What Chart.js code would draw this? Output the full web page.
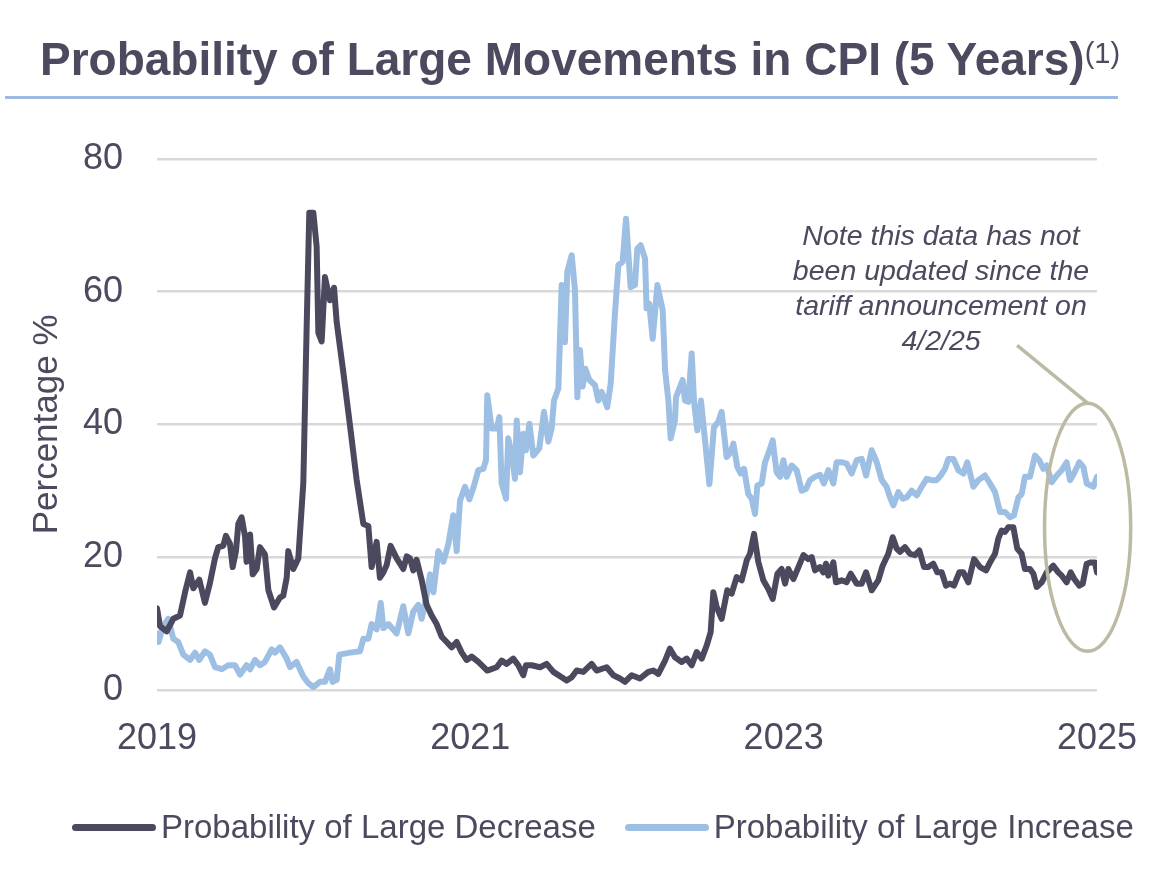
<!DOCTYPE html>
<html>
<head>
<meta charset="utf-8">
<title>Probability of Large Movements in CPI (5 Years)</title>
<script src="https://cdn.jsdelivr.net/npm/chart.js@4.4.1/dist/chart.umd.min.js"></script>
<style>
  body { margin: 0; background: #fff; font-family: "Liberation Sans", Arial, sans-serif; color: #4b4a5e; }
  #wrap { position: relative; width: 1169px; height: 881px; overflow: hidden; }
  #cpiChart { position: absolute; left: 0; top: 0; }
  h1 { position: absolute; left: 40px; top: 31px; margin: 0; font-size: 46px; line-height: 45px; font-weight: bold; white-space: nowrap; }
  h1 span { font-size: 29px; font-weight: normal; vertical-align: 12px; }
  .rule { position: absolute; left: 5px; top: 96px; width: 1113px; height: 3px; background: #9dbbe0; }
  .note { position: absolute; left: 741px; top: 218px; width: 400px; text-align: center; font-style: italic; font-size: 28.5px; line-height: 35px; }
  .legend { position: absolute; left: 72px; top: 808px; display: flex; align-items: center; font-size: 33px; line-height: 38px; white-space: nowrap; }
  .legend .sw { display: inline-block; width: 84px; height: 7px; border-radius: 4px; margin-right: 5px; }
  .legend .item { display: flex; align-items: center; margin-right: 29px; }
</style>
</head>
<body>
<div id="wrap">
  <canvas id="cpiChart" width="1169" height="881"></canvas>
  <h1>Probability of Large Movements in CPI (5 Years)<span>(1)</span></h1>
  <div class="rule"></div>
  <div class="note">Note this data has not<br>been updated since the<br>tariff announcement on<br>4/2/25</div>
  <div class="legend" id="legend"></div>
</div>
<script>
// x ticks and y ticks
const xTickYears = [2019, 2021, 2023, 2025];
const yTickValues = [0, 20, 40, 60, 80];

// Probability of Large Decrease (%), by decimal year
const decYears = [
  2019.000, 2019.019, 2019.062, 2019.104, 2019.147, 2019.179, 2019.211, 2019.232, 2019.270, 2019.306,
  2019.338, 2019.370, 2019.391, 2019.423, 2019.440, 2019.466, 2019.483, 2019.504, 2019.519, 2019.540,
  2019.562, 2019.572, 2019.594, 2019.611, 2019.636, 2019.657, 2019.689, 2019.711, 2019.747, 2019.785,
  2019.806, 2019.828, 2019.838, 2019.870, 2019.902, 2019.934, 2019.955, 2019.972, 2019.998, 2020.019,
  2020.030, 2020.051, 2020.072, 2020.104, 2020.130, 2020.147, 2020.189, 2020.232, 2020.274, 2020.317,
  2020.349, 2020.370, 2020.402, 2020.423, 2020.445, 2020.466, 2020.491, 2020.530, 2020.572, 2020.594,
  2020.615, 2020.636, 2020.657, 2020.689, 2020.721, 2020.753, 2020.785, 2020.817, 2020.849, 2020.881,
  2020.913, 2020.945, 2020.977, 2021.009, 2021.051, 2021.108, 2021.168, 2021.200, 2021.232, 2021.274,
  2021.306, 2021.338, 2021.355, 2021.391, 2021.445, 2021.487, 2021.530, 2021.583, 2021.615, 2021.647,
  2021.679, 2021.721, 2021.774, 2021.806, 2021.870, 2021.913, 2021.955, 2021.987, 2022.030, 2022.083,
  2022.136, 2022.168, 2022.200, 2022.243, 2022.274, 2022.306, 2022.349, 2022.381, 2022.413, 2022.445,
  2022.477, 2022.509, 2022.534, 2022.551, 2022.572, 2022.604, 2022.640, 2022.668, 2022.700, 2022.732,
  2022.764, 2022.785, 2022.811, 2022.838, 2022.870, 2022.902, 2022.930, 2022.960, 2022.987, 2023.009,
  2023.030, 2023.062, 2023.094, 2023.126, 2023.157, 2023.179, 2023.200, 2023.232, 2023.253, 2023.270,
  2023.285, 2023.317, 2023.334, 2023.370, 2023.402, 2023.428, 2023.466, 2023.498, 2023.526, 2023.562,
  2023.604, 2023.632, 2023.668, 2023.696, 2023.721, 2023.743, 2023.774, 2023.806, 2023.838, 2023.866,
  2023.896, 2023.923, 2023.955, 2023.981, 2024.009, 2024.036, 2024.062, 2024.087, 2024.121, 2024.147,
  2024.179, 2024.215, 2024.253, 2024.292, 2024.317, 2024.349, 2024.370, 2024.391, 2024.413, 2024.434,
  2024.466, 2024.491, 2024.519, 2024.540, 2024.572, 2024.594, 2024.615, 2024.647, 2024.679, 2024.721,
  2024.753, 2024.775, 2024.806, 2024.832, 2024.855, 2024.887, 2024.909, 2024.934, 2024.960, 2024.987,
  2025.000
];
const decValues = [
  12.3, 9.6, 8.8, 10.7, 11.2, 14.7, 17.7, 15.3, 16.6, 13.1,
  16.1, 19.8, 21.5, 21.7, 23.2, 22.0, 18.5, 20.9, 25.0, 26.0,
  23.1, 19.3, 23.4, 17.4, 18.2, 21.5, 20.4, 15.0, 12.4, 13.9,
  14.2, 16.9, 20.9, 18.2, 19.8, 31.2, 54.4, 71.9, 71.9, 66.8,
  53.8, 52.5, 62.2, 58.7, 60.6, 55.4, 47.9, 39.8, 31.7, 25.0,
  24.7, 18.5, 22.3, 16.9, 17.7, 18.8, 21.7, 19.8, 18.2, 20.1,
  19.8, 18.0, 19.6, 16.6, 12.8, 11.2, 9.9, 8.0, 7.2, 6.4,
  7.2, 5.6, 4.5, 5.0, 4.2, 2.9, 3.4, 4.4, 3.9, 4.7,
  3.7, 2.2, 3.7, 3.7, 3.4, 3.9, 2.7, 1.9, 1.4, 1.9,
  2.9, 2.7, 3.9, 2.9, 3.4, 2.2, 1.7, 1.2, 2.2, 1.7,
  2.7, 2.9, 2.4, 4.4, 6.2, 4.9, 4.2, 4.7, 3.7, 5.7,
  4.7, 6.7, 8.7, 14.7, 12.5, 10.7, 15.0, 14.5, 17.0, 16.5,
  19.5, 20.5, 23.5, 19.3, 16.5, 15.2, 13.7, 17.5, 18.2, 16.0,
  18.2, 16.7, 18.5, 20.3, 19.7, 20.0, 18.0, 18.5, 17.7, 19.0,
  17.2, 19.2, 16.2, 16.5, 16.2, 17.5, 16.0, 16.0, 17.7, 15.0,
  16.5, 18.7, 20.5, 23.0, 21.3, 20.8, 21.5, 20.5, 20.3, 21.0,
  18.5, 18.5, 19.0, 17.7, 17.7, 15.7, 16.0, 15.7, 17.7, 17.7,
  16.2, 19.7, 18.5, 18.0, 19.2, 20.5, 22.8, 24.0, 23.8, 24.5,
  24.5, 21.3, 20.5, 18.2, 18.2, 17.5, 15.5, 16.2, 17.7, 18.7,
  17.7, 17.2, 16.2, 17.7, 16.7, 15.7, 16.0, 19.0, 19.2, 19.2,
  17.7
];

// Probability of Large Increase (%), by decimal year
const incYears = [
  2019.000, 2019.009, 2019.040, 2019.072, 2019.104, 2019.136, 2019.168, 2019.211, 2019.243, 2019.270,
  2019.306, 2019.338, 2019.370, 2019.413, 2019.455, 2019.498, 2019.530, 2019.572, 2019.594, 2019.626,
  2019.657, 2019.689, 2019.732, 2019.753, 2019.785, 2019.828, 2019.849, 2019.891, 2019.934, 2019.966,
  2019.998, 2020.040, 2020.072, 2020.104, 2020.121, 2020.147, 2020.164, 2020.232, 2020.296, 2020.317,
  2020.349, 2020.370, 2020.402, 2020.428, 2020.445, 2020.477, 2020.530, 2020.572, 2020.604, 2020.636,
  2020.668, 2020.689, 2020.721, 2020.743, 2020.764, 2020.796, 2020.828, 2020.860, 2020.891, 2020.913,
  2020.934, 2020.966, 2020.994, 2021.019, 2021.051, 2021.083, 2021.100, 2021.108, 2021.136, 2021.168,
  2021.185, 2021.200, 2021.228, 2021.242, 2021.264, 2021.285, 2021.296, 2021.317, 2021.338, 2021.355,
  2021.377, 2021.402, 2021.440, 2021.470, 2021.498, 2021.519, 2021.534, 2021.562, 2021.583, 2021.604,
  2021.619, 2021.647, 2021.668, 2021.683, 2021.700, 2021.717, 2021.734, 2021.760, 2021.796, 2021.817,
  2021.838, 2021.874, 2021.896, 2021.923, 2021.945, 2021.972, 2021.994, 2022.023, 2022.051, 2022.066,
  2022.087, 2022.115, 2022.125, 2022.142, 2022.164, 2022.194, 2022.228, 2022.243, 2022.264, 2022.279,
  2022.306, 2022.313, 2022.355, 2022.370, 2022.391, 2022.413, 2022.428, 2022.449, 2022.472, 2022.498,
  2022.526, 2022.555, 2022.583, 2022.604, 2022.636, 2022.662, 2022.679, 2022.704, 2022.726, 2022.747,
  2022.774, 2022.796, 2022.817, 2022.832, 2022.860, 2022.881, 2022.902, 2022.930, 2022.955, 2022.977,
  2022.998, 2023.019, 2023.051, 2023.083, 2023.115, 2023.143, 2023.168, 2023.200, 2023.232, 2023.257,
  2023.285, 2023.317, 2023.338, 2023.370, 2023.402, 2023.434, 2023.466, 2023.498, 2023.526, 2023.562,
  2023.594, 2023.626, 2023.657, 2023.679, 2023.700, 2023.732, 2023.760, 2023.785, 2023.817, 2023.849,
  2023.881, 2023.913, 2023.945, 2023.977, 2024.002, 2024.030, 2024.051, 2024.083, 2024.115, 2024.147,
  2024.172, 2024.211, 2024.243, 2024.285, 2024.317, 2024.349, 2024.381, 2024.413, 2024.445, 2024.470,
  2024.498, 2024.519, 2024.540, 2024.572, 2024.604, 2024.632, 2024.657, 2024.679, 2024.711, 2024.743,
  2024.775, 2024.806, 2024.828, 2024.853, 2024.887, 2024.913, 2024.934, 2024.977, 2025.000
];
const incValues = [
  8.5, 7.2, 9.6, 10.7, 7.7, 7.2, 5.3, 4.5, 5.6, 4.5,
  5.8, 5.3, 3.4, 3.1, 3.7, 3.7, 2.3, 3.7, 3.1, 4.5,
  3.7, 4.2, 6.1, 5.6, 6.4, 4.7, 3.4, 4.2, 2.0, 1.0,
  0.4, 1.2, 1.2, 3.1, 1.2, 1.5, 5.3, 5.6, 5.8, 7.7,
  7.7, 9.9, 9.1, 13.1, 9.3, 9.9, 8.5, 12.6, 8.5, 11.8,
  12.8, 10.7, 14.2, 17.4, 14.7, 20.9, 19.3, 22.0, 26.3, 20.9,
  28.5, 30.6, 28.7, 30.4, 33.1, 33.3, 34.6, 44.4, 39.4, 39.4,
  41.1, 31.1, 28.8, 37.9, 35.6, 31.8, 40.6, 32.8, 38.6, 36.1,
  40.1, 35.3, 36.4, 41.9, 37.4, 39.4, 43.6, 45.4, 61.0, 52.4,
  63.0, 65.5, 60.2, 44.1, 51.2, 45.7, 48.4, 46.7, 45.9, 43.6,
  44.9, 42.6, 46.2, 56.7, 64.0, 64.5, 71.0, 60.7, 61.0, 66.5,
  67.0, 65.0, 57.5, 58.2, 52.9, 61.0, 57.2, 48.2, 43.6, 37.9,
  40.6, 44.1, 46.7, 43.6, 43.4, 50.7, 43.4, 39.1, 43.6, 37.6,
  31.0, 39.6, 40.4, 41.9, 35.1, 35.8, 37.1, 33.6, 32.6, 33.3,
  29.5, 28.8, 26.5, 30.8, 31.1, 34.3, 35.6, 37.6, 32.8, 32.1,
  34.6, 32.1, 33.8, 33.1, 30.0, 30.3, 31.6, 32.1, 32.4, 31.1,
  33.1, 31.1, 34.3, 34.3, 34.1, 32.6, 34.6, 34.8, 32.3, 36.1,
  34.3, 31.6, 30.6, 29.0, 27.8, 29.8, 28.8, 29.0, 30.0, 29.3,
  30.6, 31.8, 31.6, 31.6, 32.3, 33.3, 34.8, 34.8, 33.1, 32.6,
  34.3, 30.6, 31.6, 32.3, 31.1, 29.8, 26.8, 26.8, 26.0, 26.3,
  29.0, 29.5, 32.1, 32.1, 35.3, 34.6, 33.3, 33.8, 31.3, 32.3,
  33.1, 34.3, 31.6, 32.6, 34.3, 33.6, 31.1, 30.6, 32.1
];

const TEXT = '#4b4a5e';
const DARK = '#4a495e';
const LIGHT = '#9dbfe4';

// callout ellipse round the latest readings, in data units
const noteCircle = { x: 2024.94, y: 24.5, rx: 0.275, ry: 18.7 };
const notePointer = { x: 2024.49, y: 51.9 };

function toPoints(xs, ys) {
  return xs.map((x, i) => ({ x: x, y: ys[i] }));
}

const calloutPlugin = {
  id: 'callout',
  afterDatasetsDraw(chart) {
    const ctx = chart.ctx, xs = chart.scales.x, ys = chart.scales.y;
    const cx = xs.getPixelForValue(noteCircle.x);
    const cy = ys.getPixelForValue(noteCircle.y);
    const rx = Math.abs(xs.getPixelForValue(noteCircle.x + noteCircle.rx) - cx);
    const ry = Math.abs(ys.getPixelForValue(noteCircle.y + noteCircle.ry) - cy);
    ctx.save();
    ctx.strokeStyle = '#bdbaa3';
    ctx.lineWidth = 3.5;
    ctx.beginPath();
    ctx.ellipse(cx, cy, rx, ry, 0, 0, Math.PI * 2);
    ctx.stroke();
    ctx.beginPath();
    ctx.moveTo(xs.getPixelForValue(notePointer.x), ys.getPixelForValue(notePointer.y));
    ctx.lineTo(cx, cy - ry);
    ctx.stroke();
    ctx.restore();
  }
};

const chart = new Chart(document.getElementById('cpiChart'), {
  type: 'line',
  data: {
    datasets: [{
      label: 'Probability of Large Decrease',
      data: toPoints(decYears, decValues),
      borderColor: DARK,
      backgroundColor: DARK,
      borderWidth: 6,
      pointRadius: 0,
      tension: 0,
      borderJoinStyle: 'round',
      borderCapStyle: 'round'
    }, {
      label: 'Probability of Large Increase',
      data: toPoints(incYears, incValues),
      borderColor: LIGHT,
      backgroundColor: LIGHT,
      borderWidth: 6,
      pointRadius: 0,
      tension: 0,
      borderJoinStyle: 'round',
      borderCapStyle: 'round'
    }]
  },
  options: {
    responsive: false,
    animation: false,
    layout: { padding: { left: 26, right: 72, top: 159, bottom: 100 } },
    font: { family: '"Liberation Sans", Arial, sans-serif' },
    plugins: { legend: { display: false }, tooltip: { enabled: false } },
    scales: {
      x: {
        type: 'linear', min: 2019, max: 2025,
        grid: { display: false }, border: { display: false },
        afterBuildTicks: s => { s.ticks = xTickYears.map(v => ({ value: v })); },
        ticks: { color: TEXT, font: { size: 36 }, padding: 20, maxRotation: 0, autoSkip: false, callback: v => String(v) }
      },
      y: {
        min: 0, max: 80,
        afterBuildTicks: s => { s.ticks = yTickValues.map(v => ({ value: v })); },
        afterFit: s => { s.width = 131; },
        grid: { color: '#d9d9d9', lineWidth: 2.5, drawTicks: false },
        border: { display: false },
        ticks: { color: TEXT, font: { size: 36 }, padding: 34 },
        title: { display: true, text: 'Percentage %', color: TEXT, font: { size: 35 }, padding: 0 }
      }
    }
  },
  plugins: [calloutPlugin]
});

// legend built from the chart's datasets
const legendEl = document.getElementById('legend');
chart.data.datasets.forEach(ds => {
  const item = document.createElement('span');
  item.className = 'item';
  const sw = document.createElement('span');
  sw.className = 'sw';
  sw.style.background = ds.borderColor;
  item.appendChild(sw);
  item.appendChild(document.createTextNode(ds.label));
  legendEl.appendChild(item);
});
</script>
</body>
</html>
